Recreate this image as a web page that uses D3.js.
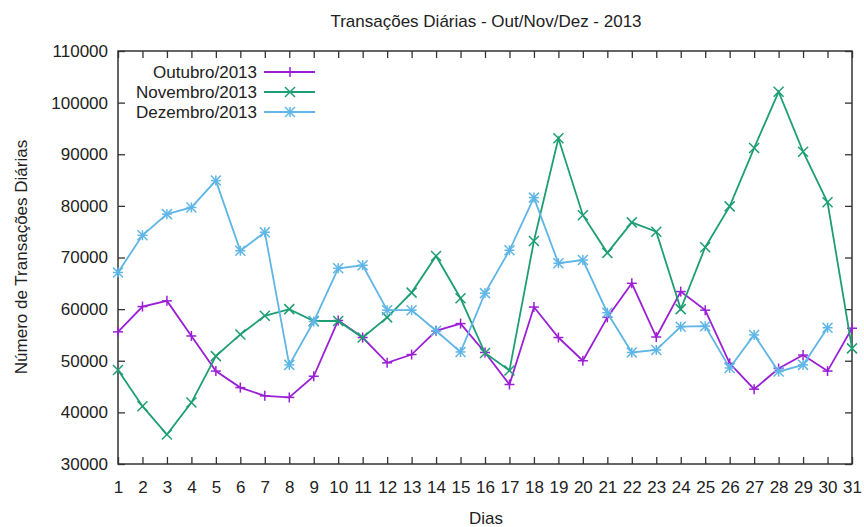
<!DOCTYPE html>
<html>
<head>
<meta charset="utf-8">
<script src="https://cdn.jsdelivr.net/npm/d3@7"></script>
<style>
  body { margin: 0; background: #fff; }
  text { font-family: Tahoma, "Liberation Sans", Arial, sans-serif; fill: #222; }
</style>
</head>
<body>
<svg id="chart" width="864" height="527"></svg>
<script>
// dias do mes
const days = d3.range(1, 32);
const outubro = [55600, 60500, 61600, 54800, 48000, 44800, 43200, 42900, 47000, 57800,
  54500, 49600, 51200, 55800, 57200, 51600, 45400, 60400, 54500, 50000,
  58400, 65000, 54600, 63400, 59800, 49500, 44500, 48500, 51100, 48000, 56300];
const novembro = [48200, 41200, 35700, 41900, 50900, 55100, 58700, 60000, 57700, 57700,
  54500, 58400, 63200, 70300, 62100, 51500, 48100, 73200, 93100, 78200,
  70900, 76800, 75000, 60000, 72000, 79900, 91200, 102100, 90500, 80700, 52400];
const dezembro = [67100, 74300, 78400, 79700, 84900, 71300, 74900, 49200, 57600, 67900,
  68500, 59800, 59800, 55800, 51700, 63100, 71400, 81600, 68900, 69500,
  59300, 51600, 52100, 56600, 56700, 48600, 55000, 47900, 49200, 56400];
const yTicks = [30000, 40000, 50000, 60000, 70000, 80000, 90000, 100000, 110000];

const series = [
  { name: "Outubro/2013", values: outubro, color: "#9a1fd6", marker: "plus" },
  { name: "Novembro/2013", values: novembro, color: "#1e9e74", marker: "cross" },
  { name: "Dezembro/2013", values: dezembro, color: "#5fb6e6", marker: "star" },
];

const svg = d3.select("#chart");
const plotLeft = 118, plotRight = 852, plotTop = 51, plotBottom = 464;
const fontSize = "17px";

const x = d3.scaleLinear().domain([1, 31]).range([plotLeft, plotRight]);
const y = d3.scaleLinear().domain([30000, 110000]).range([plotBottom, plotTop]);

//title
svg.append("text")
  .attr("x", 486).attr("y", 27)
  .attr("text-anchor", "middle")
  .style("font-size", fontSize)
  .text("Transações Diárias - Out/Nov/Dez - 2013");

//axes with inward ticks (mirrored like gnuplot)
const tickLen = 7;
svg.append("g")
  .attr("transform", `translate(0,${plotBottom})`)
  .call(d3.axisBottom(x).tickValues(days).tickSizeInner(-tickLen).tickSizeOuter(0).tickPadding(17).tickFormat(d3.format("d")))
  .call(g => g.select(".domain").remove());
svg.append("g")
  .attr("transform", `translate(0,${plotTop})`)
  .call(d3.axisTop(x).tickValues(days).tickSizeInner(-tickLen).tickSizeOuter(0).tickFormat(""))
  .call(g => g.select(".domain").remove());
svg.append("g")
  .attr("transform", `translate(${plotLeft},0)`)
  .call(d3.axisLeft(y).tickValues(yTicks).tickSizeInner(-tickLen).tickSizeOuter(0).tickPadding(10).tickFormat(d3.format("d")))
  .call(g => g.select(".domain").remove());
svg.append("g")
  .attr("transform", `translate(${plotRight},0)`)
  .call(d3.axisRight(y).tickValues(yTicks).tickSizeInner(-tickLen).tickSizeOuter(0).tickFormat(""))
  .call(g => g.select(".domain").remove());

svg.selectAll(".tick line").attr("stroke", "#333").attr("stroke-width", 1.3);
svg.selectAll(".tick text").style("font-family", "Tahoma, 'Liberation Sans', Arial, sans-serif")
  .style("font-size", fontSize).attr("fill", "#222");

svg.append("rect")
  .attr("x", plotLeft).attr("y", plotTop)
  .attr("width", plotRight - plotLeft).attr("height", plotBottom - plotTop)
  .attr("fill", "none").attr("stroke", "#333").attr("stroke-width", 1.5);

//axis labels
svg.append("text")
  .attr("x", 486).attr("y", 524)
  .attr("text-anchor", "middle")
  .style("font-size", fontSize)
  .text("Dias");
svg.append("text")
  .attr("transform", "translate(27,257) rotate(-90)")
  .attr("text-anchor", "middle")
  .style("font-size", fontSize)
  .text("Número de Transações Diárias");

//markers
const drawMarker = (g, cx, cy, type, color) => {
  const s = 5;
  const segs = [];
  if (type === "plus" || type === "star") {
    segs.push([cx - s, cy, cx + s, cy], [cx, cy - s, cx, cy + s]);
  }
  if (type === "cross" || type === "star") {
    segs.push([cx - s, cy - s, cx + s, cy + s], [cx - s, cy + s, cx + s, cy - s]);
  }
  segs.forEach(d => {
    g.append("line")
      .attr("x1", d[0]).attr("y1", d[1]).attr("x2", d[2]).attr("y2", d[3])
      .attr("stroke", color).attr("stroke-width", 1.5);
  });
};

const line = d3.line().x((d, i) => x(days[i])).y(d => y(d));

series.forEach(s => {
  const g = svg.append("g");
  g.append("path")
    .datum(s.values)
    .attr("d", line)
    .attr("fill", "none")
    .attr("stroke", s.color)
    .attr("stroke-width", 1.8);
  s.values.forEach((v, i) => drawMarker(g, x(days[i]), y(v), s.marker, s.color));
});

//legend
series.forEach((s, i) => {
  const ly = 72 + i * 20;
  svg.append("text")
    .attr("x", 257).attr("y", ly + 6)
    .attr("text-anchor", "end")
    .style("font-size", fontSize)
    .text(s.name);
  svg.append("line")
    .attr("x1", 264).attr("x2", 315).attr("y1", ly).attr("y2", ly)
    .attr("stroke", s.color).attr("stroke-width", 1.8);
  drawMarker(svg, 290, ly, s.marker, s.color);
});
</script>
</body>
</html>
